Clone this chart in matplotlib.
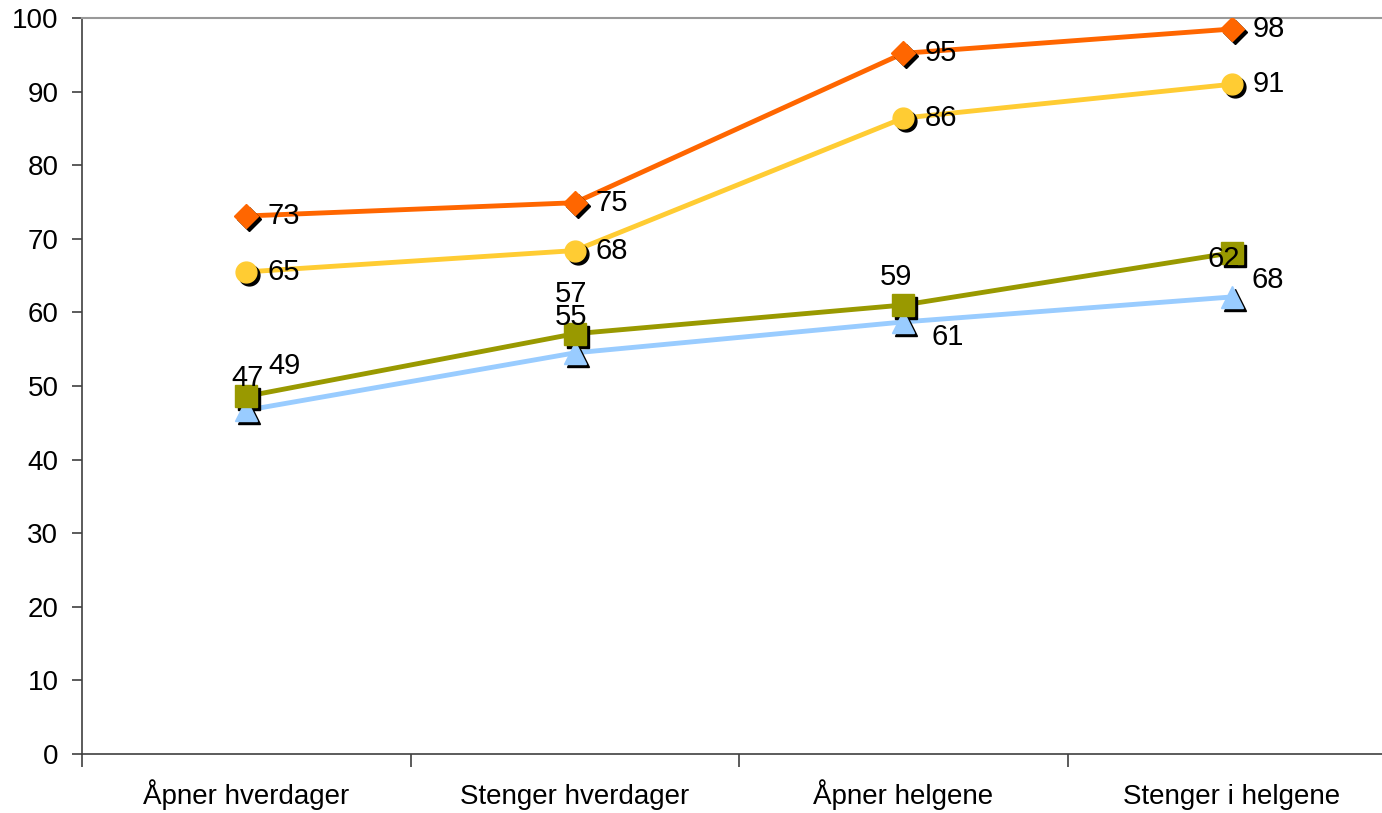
import matplotlib
matplotlib.use('Agg')
import matplotlib.pyplot as plt
import matplotlib.transforms as mtransforms
import numpy as np

plt.rcParams['font.family'] = ['Liberation Sans', 'DejaVu Sans']

categories = ['Åpner hverdager', 'Stenger hverdager', 'Åpner helgene', 'Stenger i helgene']

# values
orange_vals = [73.1, 74.9, 95.2, 98.5]
yellow_vals = [65.5, 68.4, 86.4, 91.0]
olive_vals = [48.6, 57.1, 61.0, 68.1]
blue_vals = [46.7, 54.5, 58.7, 62.1]

# data labels as printed in the chart
orange_labels = ['73', '75', '95', '98']
yellow_labels = ['65', '68', '86', '91']
olive_labels = ['49', '57', '61', '68']
blue_labels = ['47', '55', '59', '62']

# label placement (pixel offsets, ha)
side = [(21, 0, 'left')] * 4
olive_pos = [(22, 30, 'left'), (-4, 40, 'center'), (28, -32, 'left'), (20, -27, 'left')]
blue_pos = [(1, 32, 'center'), (-4, 36, 'center'), (-7, 45, 'center'), (-8, 38, 'center')]

series = [
    # values, labels, color, marker, ms, label positions
    (blue_vals, blue_labels, '#99CCFF', '^', 16, blue_pos),
    (olive_vals, olive_labels, '#999900', 's', 16, olive_pos),
    (yellow_vals, yellow_labels, '#FFCC33', 'o', 15, side),
    (orange_vals, orange_labels, '#FF6600', 'D', 12, side),
]

W, H = 1382, 813
fig = plt.figure(figsize=(W / 100, H / 100), dpi=100)
ax = fig.add_axes([82 / W, 59 / H, (1396 - 82) / W, (754 - 18) / H])

x = np.arange(len(categories))
shadow = ax.transData + mtransforms.ScaledTranslation(3 / 100, -3 / 100, fig.dpi_scale_trans)

for vals, labels, color, marker, ms, pos in series:
    ax.plot(x, vals, color=color, lw=3.5, zorder=2)
    ax.plot(x, vals, linestyle='none', marker=marker, ms=ms, color='black',
            mec='black', transform=shadow, zorder=3)
    ax.plot(x, vals, linestyle='none', marker=marker, ms=ms, color=color,
            mec=color, zorder=4)
    for xi, v, lab, (dx, dy, ha) in zip(x, vals, labels, pos):
        ax.annotate(lab, (xi, v), xytext=(dx, dy), textcoords='offset pixels',
                    ha=ha, va='center', fontsize=21, color='black', zorder=5)

ax.set_xlim(-0.5, 3.5)
ax.set_ylim(0, 100)
ax.set_yticks(np.arange(0, 101, 10))
ax.set_xticks(np.arange(-0.5, 3.0, 1.0))
ax.set_xticklabels([])

# category names on a common baseline
for xi, cat in zip(x, categories):
    ax.annotate(cat, (xi, 0), xycoords=('data', 'axes fraction'), xytext=(0, -50),
                textcoords='offset pixels', ha='center', va='baseline', fontsize=20,
                annotation_clip=False)

ax.tick_params(axis='y', direction='out', length=7, width=1.2, color='#404040',
               labelsize=20, pad=10)
ax.tick_params(axis='x', direction='out', length=9, width=1.2, color='#404040')

for s in ['left', 'bottom']:
    ax.spines[s].set_color('#404040')
    ax.spines[s].set_linewidth(1.2)
ax.spines['top'].set_color('#999999')
ax.spines['top'].set_linewidth(1.5)
ax.spines['right'].set_visible(False)

fig.savefig('out.png', dpi=100)
